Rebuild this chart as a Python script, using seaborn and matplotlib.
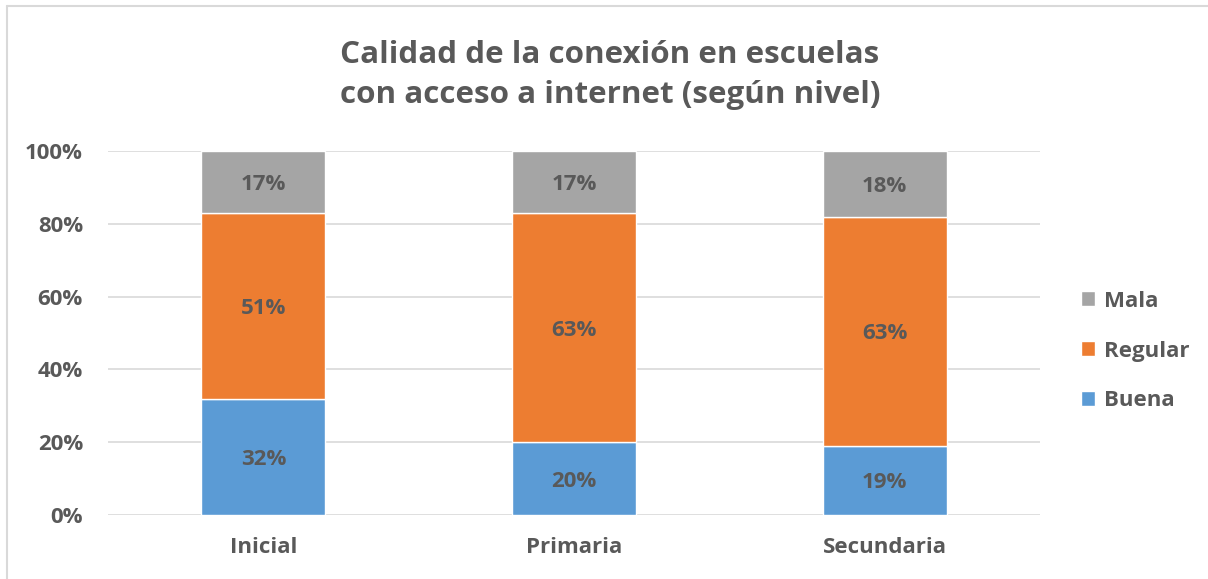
import matplotlib
matplotlib.use("Agg")
import numpy as np
import pandas as pd
import matplotlib.pyplot as plt
import seaborn as sns
from matplotlib.lines import Line2D
from matplotlib.patches import Patch

sns.set_theme(style="white")
plt.rcParams["font.family"] = ["Open Sans", "DejaVu Sans"]
plt.rcParams["font.weight"] = "bold"

# datos (porcentajes)
niveles = ["Inicial", "Primaria", "Secundaria"]
buena = [32, 20, 19]
regular = [51, 63, 63]
mala = [17, 17, 18]
series = ["Buena", "Regular", "Mala"]
colores = ["#5B9BD5", "#ED7D31", "#A5A5A5"]

texto = "#595959"

fig = plt.figure(figsize=(12.08, 5.79), dpi=100)
ax = fig.add_axes([108 / 1208, 64 / 579, 932 / 1208, 364 / 579])

df = pd.DataFrame({"nivel": niveles, "Buena": buena, "Regular": regular, "Mala": mala})

base = np.zeros(len(niveles))
for s, c in zip(series, colores):
    sns.barplot(data=df, x="nivel", y=s, bottom=base, color=c, width=0.4,
                saturation=1, ax=ax, zorder=3)
    for i, v in enumerate(df[s]):
        ax.text(i, base[i] + v / 2, f"{v}%", ha="center", va="center_baseline",
                fontsize=16, fontweight="bold", color=texto, zorder=4)
    base = base + df[s].values

ax.set_ylim(0, 100)
ax.set_xlim(-0.5, 2.5)
ax.set_yticks(range(0, 101, 20))
ax.set_yticklabels([f"{t}%" for t in range(0, 101, 20)])
ax.yaxis.grid(True, color="#D9D9D9", linewidth=1.2, zorder=0)
ax.set_axisbelow(True)
for sp in ax.spines.values():
    sp.set_visible(False)
ax.tick_params(axis="both", length=0, labelsize=16, labelcolor=texto)
ax.tick_params(axis="x", pad=16)
ax.tick_params(axis="y", pad=18)
for lab in ax.get_xticklabels() + ax.get_yticklabels():
    lab.set_fontweight("bold")
ax.set_xlabel("")
ax.set_ylabel("")

fig.text(0.505, 1 - 75 / 579, "Calidad de la conexión en escuelas\ncon acceso a internet (según nivel)",
         ha="center", va="center", fontsize=22.6, fontweight="bold", color=texto,
         linespacing=1.45)

handles = [Patch(facecolor=c, label=s) for s, c in zip(series, colores)][::-1]
leg = fig.legend(handles=handles, loc="center left", bbox_to_anchor=(1081 / 1208, 1 - 351 / 579),
                 frameon=False, fontsize=16, handlelength=0.65, handleheight=0.65,
                 handletextpad=0.4, labelspacing=1.3, borderaxespad=0, borderpad=0)
for t in leg.get_texts():
    t.set_color(texto)
    t.set_fontweight("bold")

# borde del gráfico (arriba e izquierda)
fig.add_artist(Line2D([7 / 1208, 1.0], [1 - 6 / 579, 1 - 6 / 579], color="#D9D9D9", linewidth=1.5,
                      transform=fig.transFigure))
fig.add_artist(Line2D([7 / 1208, 7 / 1208], [0, 1 - 6 / 579], color="#D9D9D9", linewidth=1.5,
                      transform=fig.transFigure))

fig.savefig("out.png", dpi=100)
plt.close("all")
